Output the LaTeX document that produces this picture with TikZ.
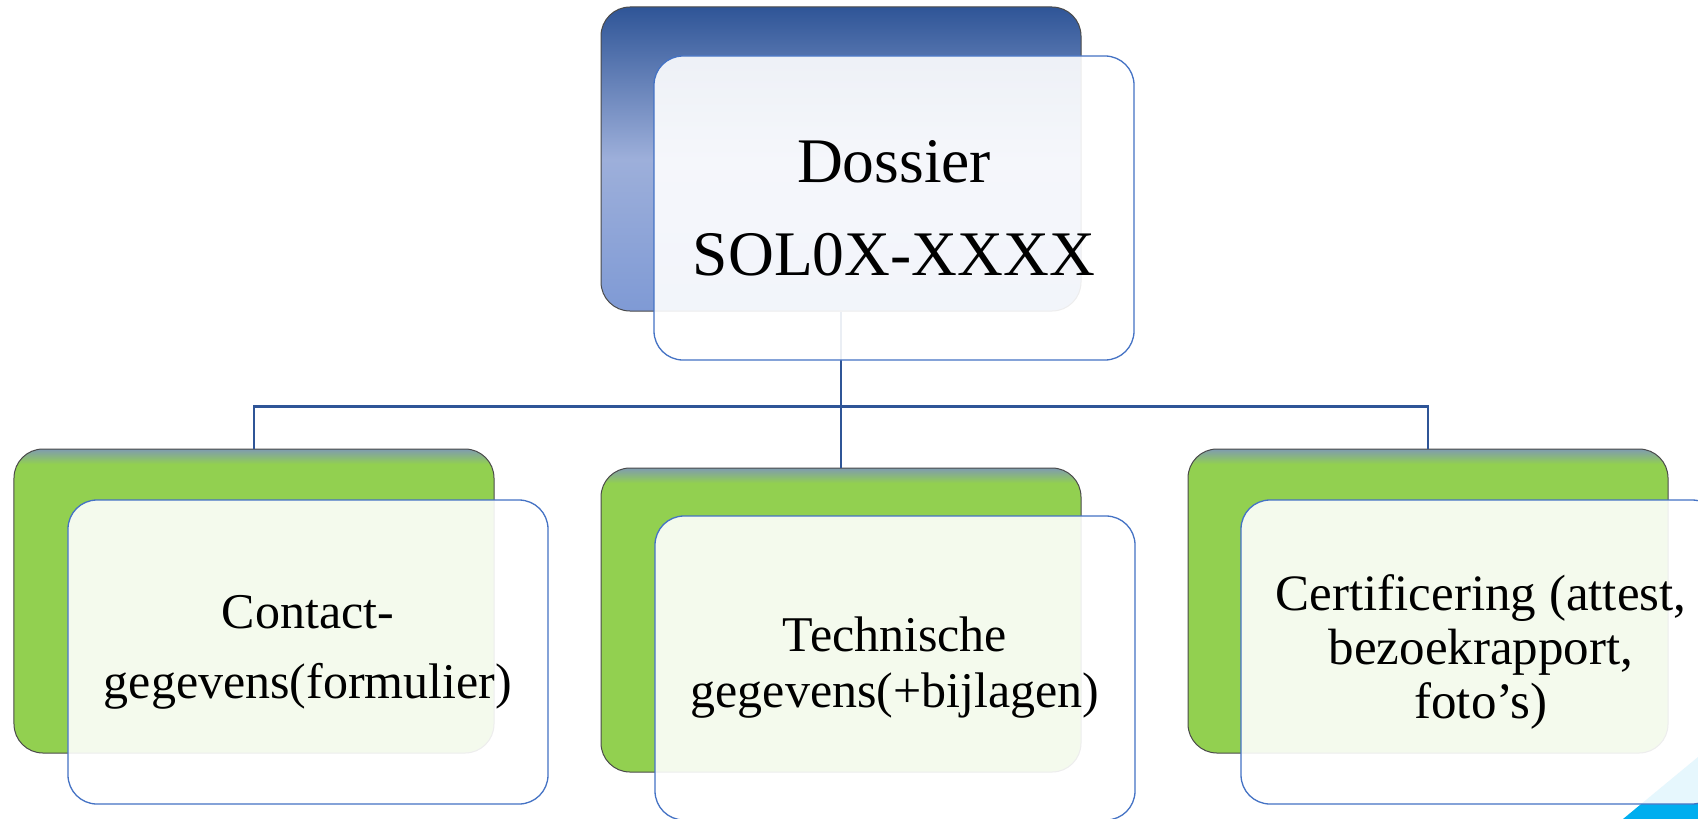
\documentclass[tikz,border=0pt]{standalone}
\usepackage{fontspec}
\setmainfont{Liberation Serif}
\usepackage{tikz}
\usetikzlibrary{positioning, calc}
\definecolor{linkblue}{HTML}{2F5597}
\definecolor{edgegray}{HTML}{4A4A4A}
\definecolor{frontline}{HTML}{4472C4}
\definecolor{grfill}{HTML}{92D050}
\definecolor{grtop}{HTML}{7F9BB0}
\definecolor{cyanbg}{HTML}{00AEEF}
\pgfdeclareverticalshading{greentop}{100bp}{color(0bp)=(grfill); color(72.5bp)=(grfill); color(75bp)=(grtop); color(100bp)=(grtop)}
\tikzset{
  treenode/.style = {align=center, inner sep=0pt, text centered, minimum width=480bp, minimum height=304bp, rounded corners=29bp},
  box_b/.style = {treenode, rectangle, draw=edgegray, line width=1bp, top color=linkblue, bottom color={rgb,255:red,127;green,154;blue,213}, middle color={rgb,255:red,157;green,175;blue,218}},
  box_g/.style = {treenode, rectangle, draw=edgegray, line width=1bp, shade, shading=greentop},
  box_f/.style = {treenode, rectangle, draw=frontline, line width=1.3bp, fill=white, fill opacity=0.9, text opacity=1}
}
\begin{document}
\begin{tikzpicture}[x=1bp, y=1bp,
    level 1/.style={sibling distance=587bp},
    level distance=442bp,
    edge from parent/.style={draw=linkblue, line width=2.2bp},
    edge from parent path={(\tikzparentnode.south) -- ++(0,-95bp) -| (\tikzchildnode.north)}]
  \useasboundingbox (0,0) rectangle (1698,-819);
  \clip (0,0) rectangle (1698,-819);
  % slide corner
  \fill[cyanbg] (1623,-819) -- (1698,-757) -- (1698,-819) -- cycle;
  \node [box_b] (root) at (841,-159) {}
      child{ node [box_g] (c1) {}}
      child{ node [box_g, yshift=-19bp] (c2) {}}
      child{ node [box_g] (c3) {}}
  ;
  % front boxes with the labels
  \node [box_f, font=\fontsize{63.5bp}{93bp}\selectfont] (froot) at ([shift={(53bp,-49bp)}]root.center) {Dossier\\SOL0X-XXXX};
  \node [box_f, font=\fontsize{50bp}{70bp}\selectfont] (f1) at ([shift={(54bp,-51bp)}]c1.center) {Contact-\\gegevens(formulier)};
  \node [box_f, font=\fontsize{50bp}{56bp}\selectfont] (f2) at ([shift={(54bp,-48bp)}]c2.center) {Technische\\gegevens(+bijlagen)};
  \node [box_f, font=\fontsize{51bp}{54bp}\selectfont] (f3) at ([shift={(53bp,-51bp)}]c3.center) {Certificering (attest,\\bezoekrapport,\\foto’s)};
\end{tikzpicture}
\end{document}
